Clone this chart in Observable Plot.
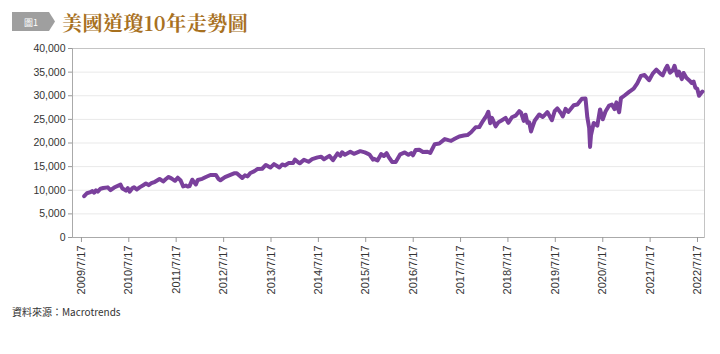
<!DOCTYPE html>
<html>
<head>
<meta charset="utf-8">
<script src="https://cdn.jsdelivr.net/npm/d3@7"></script>
<script src="https://cdn.jsdelivr.net/npm/@observablehq/plot@0.6"></script>
<style>
  html, body { margin: 0; padding: 0; background: #fff; }
  body { width: 720px; height: 354px; position: relative; overflow: hidden; font-family: "Liberation Sans", Arial, sans-serif; }
  #badge { position: absolute; left: 12px; top: 12px; }
  #title { position: absolute; left: 62px; top: 8px; font-family: "Noto Serif CJK TC", "Noto Sans CJK TC", serif; font-size: 20px; font-weight: 700; color: #a8711f; white-space: nowrap; letter-spacing: 0.5px; }
  #chart { position: absolute; left: 0; top: 40px; }
  #caption { position: absolute; left: 12px; top: 304px; font-family: "Noto Sans CJK TC", "Liberation Sans", sans-serif; font-size: 10px; color: #333; white-space: nowrap; }
</style>
</head>
<body>
<svg id="badge" width="46" height="19" viewBox="0 0 46 19">
  <polygon points="0,0 37,0 43,9.5 37,19 0,19" fill="#9f9f9f"></polygon>
  <text x="19" y="13.5" text-anchor="middle" fill="#fff" font-size="9" font-family="Noto Sans CJK TC, sans-serif">圖1</text>
</svg>
<div id="title">美國道瓊10年走勢圖</div>
<div id="chart"></div>
<div id="caption">資料來源：Macrotrends</div>
<script>
// Dow Jones Industrial Average
const dates = [
  "2009-08-07","2009-08-28","2009-09-18","2009-10-09","2009-10-23","2009-11-06","2009-11-20","2009-12-11",
  "2010-01-01","2010-02-05","2010-02-26","2010-03-26","2010-05-14","2010-05-28","2010-06-11","2010-06-25",
  "2010-07-09","2010-07-23","2010-08-13","2010-08-27","2010-09-17","2010-10-08","2010-11-05","2010-11-26",
  "2010-12-17","2011-01-07","2011-02-04","2011-03-11","2011-04-08","2011-04-29","2011-05-20","2011-06-10",
  "2011-07-08","2011-07-29","2011-08-19","2011-09-02","2011-09-09","2011-09-30","2011-10-14","2011-10-28",
  "2011-11-18","2011-12-16","2011-12-30","2012-02-03","2012-03-02","2012-04-06","2012-05-18","2012-06-08",
  "2012-06-22","2012-07-27","2012-09-07","2012-10-05","2012-10-26","2012-12-07","2012-12-28","2013-01-18",
  "2013-02-08","2013-03-08","2013-04-05","2013-05-10","2013-06-07","2013-07-12","2013-08-09","2013-09-20",
  "2013-10-11","2013-11-01","2013-11-29","2014-01-03","2014-01-17","2014-02-21","2014-02-28","2014-03-28",
  "2014-05-02","2014-05-30","2014-07-11","2014-08-08","2014-08-29","2014-10-10","2014-11-07","2014-12-12",
  "2015-01-02","2015-01-16","2015-02-06","2015-03-20","2015-04-17","2015-06-05","2015-07-10","2015-07-31",
  "2015-08-14","2015-09-11","2015-09-18","2015-10-16","2015-11-13","2015-12-04","2015-12-25","2016-01-08",
  "2016-02-05","2016-03-04","2016-04-08","2016-05-13","2016-06-10","2016-07-01","2016-07-15","2016-08-05",
  "2016-09-02","2016-09-30","2016-11-04","2016-11-25","2016-12-30","2017-02-03","2017-03-17","2017-04-14",
  "2017-05-05","2017-06-02","2017-07-07","2017-08-11","2017-09-08","2017-10-06","2017-11-10","2017-12-08",
  "2018-01-05","2018-02-02","2018-02-16","2018-03-02","2018-03-16","2018-04-13","2018-05-04","2018-06-01",
  "2018-06-29","2018-07-20","2018-08-17","2018-09-14","2018-10-12","2018-10-26","2018-11-16","2018-11-30",
  "2018-12-14","2018-12-28","2019-01-11","2019-01-18","2019-02-08","2019-03-15","2019-04-12","2019-05-17",
  "2019-06-21","2019-07-12","2019-08-02","2019-08-30","2019-09-13","2019-10-04","2019-10-25","2019-12-06",
  "2020-01-03","2020-02-07","2020-03-06","2020-03-20","2020-04-03","2020-04-10","2020-04-17","2020-05-08",
  "2020-06-05","2020-06-26","2020-07-17","2020-08-07","2020-09-04","2020-09-25","2020-10-16","2020-10-30",
  "2020-11-20","2020-12-04","2021-01-01","2021-02-05","2021-03-12","2021-04-09","2021-05-07","2021-06-04",
  "2021-07-09","2021-08-06","2021-09-03","2021-10-08","2021-10-22","2021-11-12","2021-11-26","2021-12-17",
  "2022-01-07","2022-01-21","2022-02-11","2022-02-25","2022-03-18","2022-04-01","2022-04-22","2022-05-13",
  "2022-06-03","2022-06-17","2022-07-01","2022-07-15","2022-07-29","2022-08-12","2022-08-24"
];
const values = [
  8740, 9370, 9540, 9820, 9490, 9990, 9710, 10320,
  10470, 10610, 10010, 10570, 11200, 10380, 10190, 9930,
  10450, 9690, 10420, 10650, 10150, 10610, 11060, 11440,
  11090, 11490, 11790, 12390, 11860, 12380, 12810, 12510,
  12000, 12650, 12140, 11270, 10820, 10990, 10770, 10880,
  12230, 11230, 12180, 12420, 12800, 13230, 13230, 12370,
  12120, 12770, 13270, 13590, 13610, 12590, 13150, 12940,
  13650, 13980, 14510, 14550, 15350, 14800, 15540, 14810,
  15450, 15240, 15760, 15750, 16480, 15700, 15790, 16450,
  16030, 16580, 16950, 17100, 16550, 17280, 16380, 17810,
  17280, 18050, 17510, 18130, 17710, 18270, 18010, 17760,
  17570, 16460, 16640, 16310, 17650, 17250, 17850, 17130,
  15990, 15970, 17600, 18000, 17500, 17870, 17400, 18520,
  18580, 18090, 18140, 17890, 19750, 19890, 20820, 20600,
  20450, 20900, 21380, 21580, 21670, 22270, 23330, 23360,
  24650, 25800, 26620, 24190, 25310, 23530, 24360, 24830,
  25320, 24270, 25450, 25790, 26740, 26450, 24690, 25990,
  24290, 24390, 22450, 23060, 24710, 26030, 25500, 26540,
  24820, 26720, 27330, 26290, 25630, 27220, 26570, 28000,
  28140, 29350, 29400, 25410, 23190, 19170, 21640, 24240,
  23690, 27110, 25020, 26670, 27930, 28130, 27170, 28590,
  26500, 29480, 30050, 30810, 31490, 32630, 34200, 34380,
  33290, 34690, 35510, 34580, 34330, 35680, 36330, 34900,
  35360, 36340, 34270, 35090, 33510, 34820, 33810, 33300,
  32700, 33000, 31700, 31500, 30000, 30500, 30900
];
const xTickYears = [2009,2010,2011,2012,2013,2014,2015,2016,2017,2018,2019,2020,2021,2022];
const xTickLabels = ["2009/7/17","2010/7/17","2011/7/17","2012/7/17","2013/7/17","2014/7/17","2015/7/17","2016/7/17","2017/7/17","2018/7/17","2019/7/17","2020/7/17","2021/7/17","2022/7/17"];
const yTicks = [0,5000,10000,15000,20000,25000,30000,35000,40000];

const data = dates.map((d, i) => ({date: new Date(d + "T00:00:00Z"), value: values[i]}));
const xTicks = xTickYears.map(y => new Date(Date.UTC(y, 6, 17)));
const labelOf = new Map(xTicks.map((d, i) => [+d, xTickLabels[i]]));

const chart = Plot.plot({
  width: 720,
  height: 260,
  marginLeft: 72,
  marginRight: 16,
  marginTop: 8,
  marginBottom: 63,
  style: {fontFamily: "'Liberation Sans', Arial, sans-serif", color: "#333", background: "#fff", overflow: "visible"},
  x: {type: "utc", domain: [new Date(Date.UTC(2009, 4, 9)), new Date(Date.UTC(2022, 8, 9))]},
  y: {domain: [0, 40000]},
  marks: [
    Plot.gridY(yTicks, {stroke: "#e9e9e9", strokeOpacity: 1}),
    Plot.frame({stroke: "#c4c4c4"}),
    Plot.ruleX([new Date(Date.UTC(2009, 4, 9))], {stroke: "#aaa"}),
    Plot.ruleY([0], {stroke: "#aaa"}),
    Plot.axisY(yTicks, {tickSize: 4, tickPadding: 3, fontSize: 10.5, stroke: "#999", fill: "#333", tickFormat: d3.format(","), label: null}),
    Plot.axisX(xTicks, {tickSize: 5, tickPadding: 3, tickRotate: -90, fontSize: 11, stroke: "#999", fill: "#333", tickFormat: d => labelOf.get(+d), label: null}),
    Plot.lineY(data, {x: "date", y: "value", stroke: "#7a409c", strokeWidth: 4, strokeLinejoin: "round", strokeLinecap: "round"})
  ]
});
document.getElementById("chart").appendChild(chart);
</script>
</body>
</html>
